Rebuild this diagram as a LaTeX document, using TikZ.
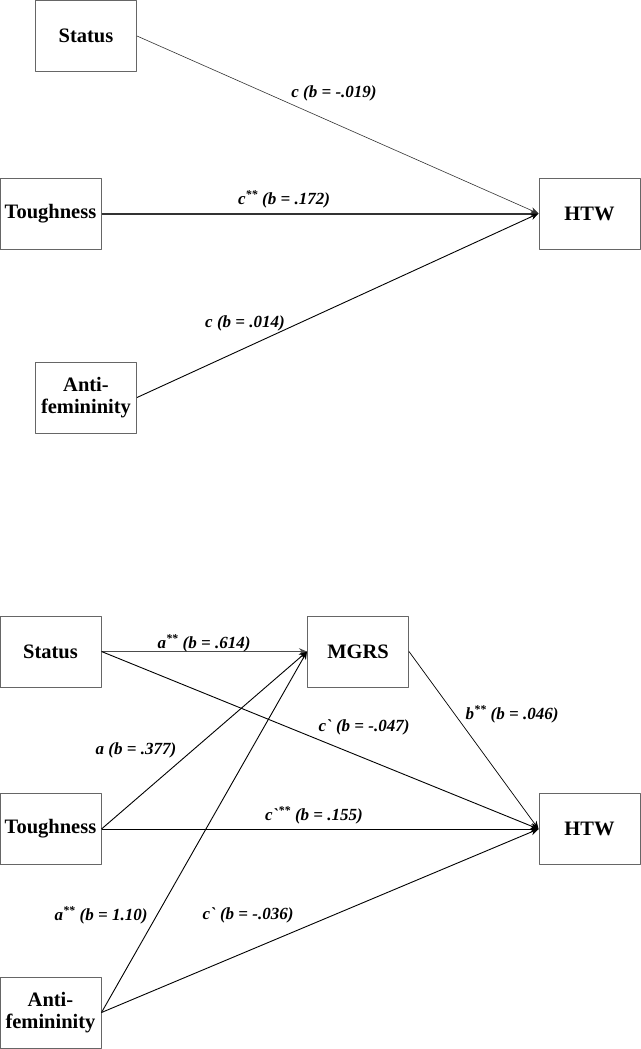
\documentclass[tikz,border=0pt]{standalone}
\usepackage{fontspec}
\setmainfont{Liberation Serif}
\usetikzlibrary{arrows.meta}
\begin{document}
\begin{tikzpicture}[x=1pt, y=-1pt, line join=round, >={Stealth[length=8pt,width=6.5pt]},
	var/.style={draw=gray!80!black, line width=1pt, minimum width=101pt, minimum height=71pt,
		inner sep=0pt, align=center, font=\fontsize{20.5}{21.5}\selectfont\bfseries},
	path/.style={->, line width=0.9pt},
	lab/.style={font=\fontsize{17}{18}\selectfont\bfseries\itshape, inner sep=0pt}
	]
	\useasboundingbox (0,0) rectangle (640,1049);
	% total effects
	\node[var] (st1) at (86,36) {Status};
	\node[var] (tg1) at (50.5,213.5) {Toughness};
	\node[var] (af1) at (86,397.5) {Anti-\\femininity};
	\node[var] (ht1) at (589.5,213.5) {HTW};
	\draw[path, line width=0.6pt, black!80] (st1.east) -- (ht1.west);
	\draw[path, line width=2pt, black!80] (tg1.east) -- (ht1.west);
	\draw[path] (af1.east) -- (ht1.west);
	\node[lab] (c1) at (334,93) {c (b = -.019)};
	\node[lab] (c2) at (284,199) {c\textsuperscript{**} (b = .172)};
	\node[lab] (c3) at (245,323) {c (b = .014)};
	% mediation through MGRS
	\node[var] (st2) at (50.5,651.5) {Status};
	\node[var] (mg) at (358,651.5) {MGRS};
	\node[var] (tg2) at (50.5,829) {Toughness};
	\node[var] (af2) at (50.5,1012.5) {Anti-\\femininity};
	\node[var] (ht2) at (589.5,829) {HTW};
	\draw[path, line width=1.7pt, black!70] (st2.east) -- (mg.west);
	\draw[path] (st2.east) -- (ht2.west);
	\draw[path, line width=0.7pt] (mg.east) -- (ht2.west);
	\draw[path] (tg2.east) -- (mg.west);
	\draw[path] (tg2.east) -- (ht2.west);
	\draw[path] (af2.east) -- (mg.west);
	\draw[path] (af2.east) -- (ht2.west);
	\node[lab] (a1) at (204,643) {a\textsuperscript{**} (b = .614)};
	\node[lab] (d1) at (364,727) {c\textasciigrave\ (b = -.047)};
	\node[lab] (b1) at (512,714) {b\textsuperscript{**} (b = .046)};
	\node[lab] (a2) at (136,750) {a (b = .377)};
	\node[lab] (d2) at (314,815) {c\textasciigrave\textsuperscript{**} (b = .155)};
	\node[lab] (a3) at (101,915) {a\textsuperscript{**} (b = 1.10)};
	\node[lab] (d3) at (248,915) {c\textasciigrave\ (b = -.036)};
\end{tikzpicture}
\end{document}
